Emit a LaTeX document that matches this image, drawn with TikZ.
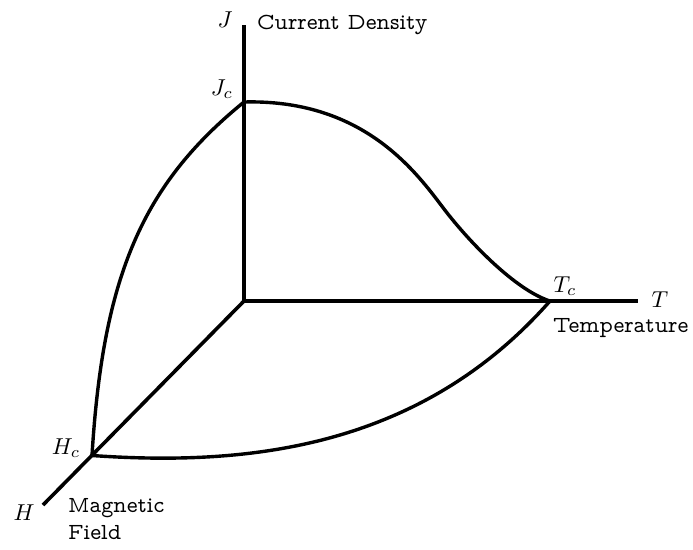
\documentclass[tikz,border=0pt]{standalone}
\usepackage{fontspec}
\newfontfamily\lblfont{lmmonoprop10-regular.otf}
\begin{document}
\begin{tikzpicture}[x=1pt,y=-1pt,
  axis/.style={line width=3.6pt},
  curve/.style={line width=3.4pt,line join=round},
  mathlbl/.style={inner sep=0pt,font=\fontsize{10}{12}\selectfont,scale=2.3},
  wordlbl/.style={inner sep=0pt,font=\fontsize{23}{28}\selectfont\lblfont,align=left}]
\useasboundingbox (0,0) rectangle (693,549);
\coordinate (O) at (244,301);
\coordinate (Jtop) at (244,25);
\coordinate (Tend) at (638,301);
\coordinate (Hend) at (43,505);
\coordinate (Jc) at (244,102);
\coordinate (Tc) at (550,301);
\coordinate (Hc) at (92,455.5);
\coordinate (M1) at (441,205);
\draw[axis] (Jtop) -- (O) -- (Tend);
\draw[axis] (O) -- (Hend);
\draw[curve] (Jc) .. controls (360,99) and (413,168) .. (M1)
                  .. controls (467,240) and (515,290) .. (Tc);
\draw[curve] (Jc) .. controls (143,184) and (103,275) .. (Hc);
\draw[curve] (Hc) .. controls (242,466) and (418,451) .. (Tc);
\node[mathlbl] (lJ) at (225,20) {$J$};
\node[mathlbl] (lJc) at (222,89) {$J_c$};
\node[mathlbl] (lTc) at (565,286) {$T_c$};
\node[mathlbl] (lT) at (660,300) {$T$};
\node[mathlbl] (lHc) at (66,448) {$H_c$};
\node[mathlbl] (lH) at (24,513) {$H$};
\node[wordlbl,anchor=base west] (cd) at (257,29) {Current Density};
\node[wordlbl,anchor=base west] (tp) at (553,332) {Temperature};
\node[wordlbl,anchor=base west] (mf) at (68,512) {Magnetic};
\node[wordlbl,anchor=base west] (fd) at (68,539) {Field};
\end{tikzpicture}
\end{document}
